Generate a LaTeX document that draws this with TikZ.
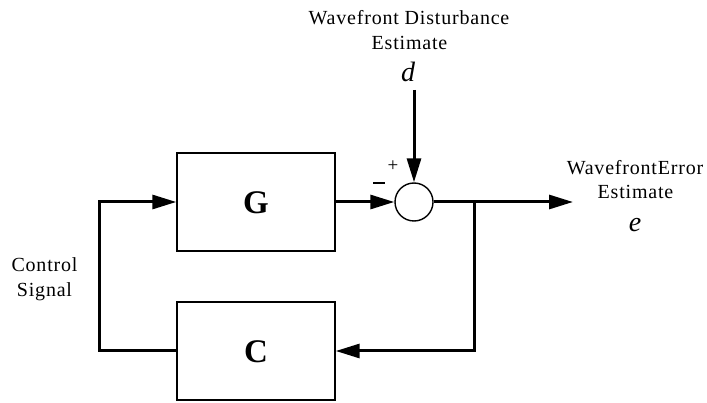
\documentclass[tikz,border=0pt]{standalone}
\usepackage{fontspec}
\setmainfont{Liberation Serif}
\usetikzlibrary{arrows.meta}
\begin{document}
\begin{tikzpicture}[x=1pt,y=-1pt,
  blk/.style={draw, line width=1.4pt, minimum width=158pt, minimum height=98pt, inner sep=0pt},
  conn/.style={line width=3pt},
  arr/.style={conn, -{Triangle[length=24pt,width=14pt]}},
  lbl/.style={font=\fontsize{20}{25}\selectfont\addfontfeatures{LetterSpace=4}, inner sep=0pt, anchor=base},
  var/.style={font=\fontsize{28}{28}\selectfont\itshape, inner sep=0pt, anchor=base},
  big/.style={font=\fontsize{33}{33}\selectfont\bfseries},
  sgn/.style={inner sep=0pt}]
\useasboundingbox (0,0) rectangle (707,403);
\node[blk] (G) at (256,202) {};
\node[big] (Gl) at (256,203) {G};
\node[blk] (C) at (256,351) {};
\node[big] (Cl) at (256,352) {C};
\node[circle, draw, line width=1.4pt, minimum size=38pt, inner sep=0pt] (S) at (414,202) {};
\coordinate (dtop) at (414,90);
\coordinate (out) at (573,202);
\coordinate (br) at (474,202);
\coordinate (bb) at (474,351);
\coordinate (lb) at (99,351);
\coordinate (lt) at (99,202);
\draw[arr] (dtop) -- (S.north);
\draw[arr] (G.east) -- (S.west);
\draw[arr] (S.east) -- (out);
\draw[arr] (br) -- (bb) -- (C.east);
\draw[arr] (C.west) -- (lb) -- (lt) -- (G.west);
% labels
\node[lbl] (wd1) at (409,25) {Wavefront Disturbance};
\node[lbl] (wd2) at (409.5,50) {Estimate};
\node[var] (d) at (408,82) {d};
\node[lbl] (we1) at (635,175) {WavefrontError};
\node[lbl] (we2) at (635.5,199) {Estimate};
\node[var] (e) at (635,232) {e};
\node[lbl] (cs1) at (44.5,272) {Control};
\node[lbl] (cs2) at (44.5,297) {Signal};
\node[sgn, font=\fontsize{19}{19}\selectfont] (plus) at (393,166) {+};
\node[sgn] (minus) at (379,183) {\rule{12pt}{2.7pt}};
\end{tikzpicture}
\end{document}
